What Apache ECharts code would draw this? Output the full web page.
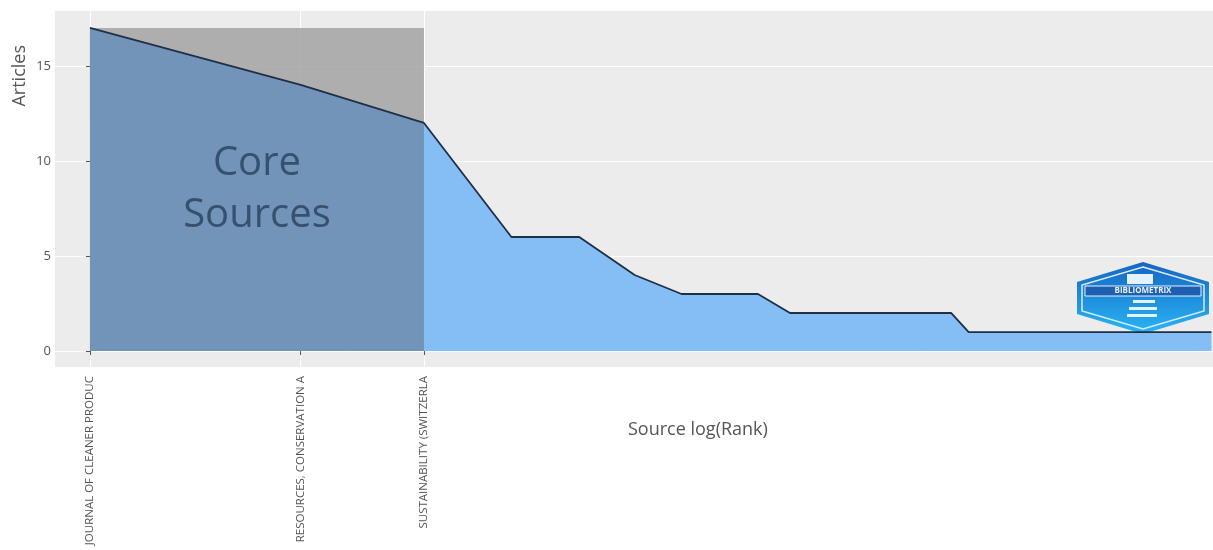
<!DOCTYPE html>
<html><head><meta charset="utf-8">
<script src="https://cdn.jsdelivr.net/npm/echarts@6/dist/echarts.min.js"></script>
<style>html,body{margin:0;background:#fff}#c{width:1213px;height:550px}</style>
</head><body><div id="c"></div>
<script>
// ---- data ----
const coreNames = ['JOURNAL OF CLEANER PRODUC', 'RESOURCES, CONSERVATION A', 'SUSTAINABILITY (SWITZERLA'];
const articles = [17, 14, 12, 6, 6, 4, 3, 3, 3,
  2, 2, 2, 2, 2, 2, 2, 2,
  1, 1, 1, 1, 1, 1, 1, 1, 1, 1, 1, 1, 1, 1, 1, 1, 1, 1, 1, 1, 1, 1, 1];
const yTicks = [0, 5, 10, 15];
const coreCount = 3;

// ---- derived ----
const points = articles.map((v, i) => [Math.log(i + 1), v]);
const coreX = coreNames.map((_, i) => Math.log(i + 1));
const coreMax = articles[0];
const font = '"Open Sans", "Noto Sans", sans-serif';

const chart = echarts.init(document.getElementById('c'));
chart.setOption({
  animation: false,
  backgroundColor: '#ffffff',
  grid: { left: 55, right: 0, top: 11, bottom: 183, show: true, backgroundColor: '#ececec', borderWidth: 0 },
  xAxis: {
    type: 'value', min: -0.115, max: 3.694,
    axisLine: { show: false },
    axisTick: { show: true, customValues: coreX, length: 4, lineStyle: { color: '#555' } },
    axisLabel: {
      customValues: coreX, rotate: 90, margin: 9,
      fontFamily: font, fontSize: 11.5, color: '#555',
      formatter: v => {
        let best = 0;
        coreX.forEach((x, i) => { if (Math.abs(x - v) < Math.abs(coreX[best] - v)) best = i; });
        return coreNames[best];
      }
    },
    splitLine: { show: true, lineStyle: { color: '#ffffff', width: 1 } }
  },
  yAxis: {
    type: 'value', min: -0.84, max: 17.89,
    axisLine: { show: false },
    axisTick: { show: true, customValues: yTicks, length: 4, lineStyle: { color: '#555' } },
    axisLabel: { customValues: yTicks, margin: 4, fontFamily: font, fontSize: 13, color: '#555' },
    splitLine: { show: true, lineStyle: { color: '#ffffff', width: 1 } }
  },
  series: [
    {
      type: 'line', data: points.slice(0, coreCount), symbol: 'none', z: 1,
      lineStyle: { width: 0, opacity: 0 },
      markArea: {
        silent: true,
        itemStyle: { color: 'rgba(160,160,160,0.82)' },
        data: [[{ xAxis: coreX[0], yAxis: 0 }, { xAxis: coreX[coreCount - 1], yAxis: coreMax }]]
      }
    },
    {
      type: 'line', data: points.slice(0, coreCount), symbol: 'none', z: 2,
      lineStyle: { width: 0 }, areaStyle: { color: '#7294b8', opacity: 1 }
    },
    {
      type: 'line', data: points.slice(coreCount - 1), symbol: 'none', z: 2,
      lineStyle: { width: 0 }, areaStyle: { color: '#85bdf5', opacity: 1 }
    },
    {
      type: 'line', data: points, symbol: 'none', z: 4,
      lineStyle: { color: '#1f2f45', width: 1.8 },
      markPoint: {
        silent: true, symbol: 'circle', symbolSize: 0,
        label: {
          show: true, position: 'inside', formatter: 'Core\nSources',
          fontFamily: font, fontSize: 40, lineHeight: 52, color: '#36516f'
        },
        data: [{ coord: [coreX[coreCount - 1] / 2, coreMax / 2] }]
      }
    }
  ],
  graphic: [
    { type: 'text', left: 11, top: 45, rotation: Math.PI / 2,
      style: { text: 'Articles', font: '18px ' + font, fill: '#555' } },
    { type: 'text', left: 628, top: 421,
      style: { text: 'Source log(Rank)', font: '18px ' + font, fill: '#555' } },
    { type: 'group', left: 1077, top: 262, children: [
      { type: 'polygon', shape: { points: [[66,0],[132,20],[132,52],[66,72],[0,52],[0,20]] },
        style: { fill: new echarts.graphic.LinearGradient(0,0,0,1,[{offset:0,color:'#1565c0'},{offset:1,color:'#29b6f6'}]) } },
      { type: 'polygon', shape: { points: [[66,5],[127,23],[127,49],[66,67],[5,49],[5,23]] },
        style: { fill: 'none', stroke: '#d6ecfb', lineWidth: 1.5 } },
      { type: 'rect', shape: { x: 8, y: 24, width: 116, height: 10 }, style: { fill: '#1e5fb0', stroke: '#e3f2fd', lineWidth: 1 } },
      { type: 'text', x: 66, y: 29, style: { text: 'BIBLIOMETRIX', font: 'bold 8px ' + font, fill: '#e3f2fd', align: 'center', verticalAlign: 'middle' } },
      { type: 'rect', shape: { x: 50, y: 12, width: 26, height: 10 }, style: { fill: '#e3f2fd' } },
      { type: 'rect', shape: { x: 56, y: 38, width: 22, height: 3 }, style: { fill: '#e3f2fd' } },
      { type: 'rect', shape: { x: 52, y: 45, width: 28, height: 3 }, style: { fill: '#e3f2fd' } },
      { type: 'rect', shape: { x: 50, y: 52, width: 30, height: 3 }, style: { fill: '#e3f2fd' } }
    ] }
  ]
});
</script></body></html>
